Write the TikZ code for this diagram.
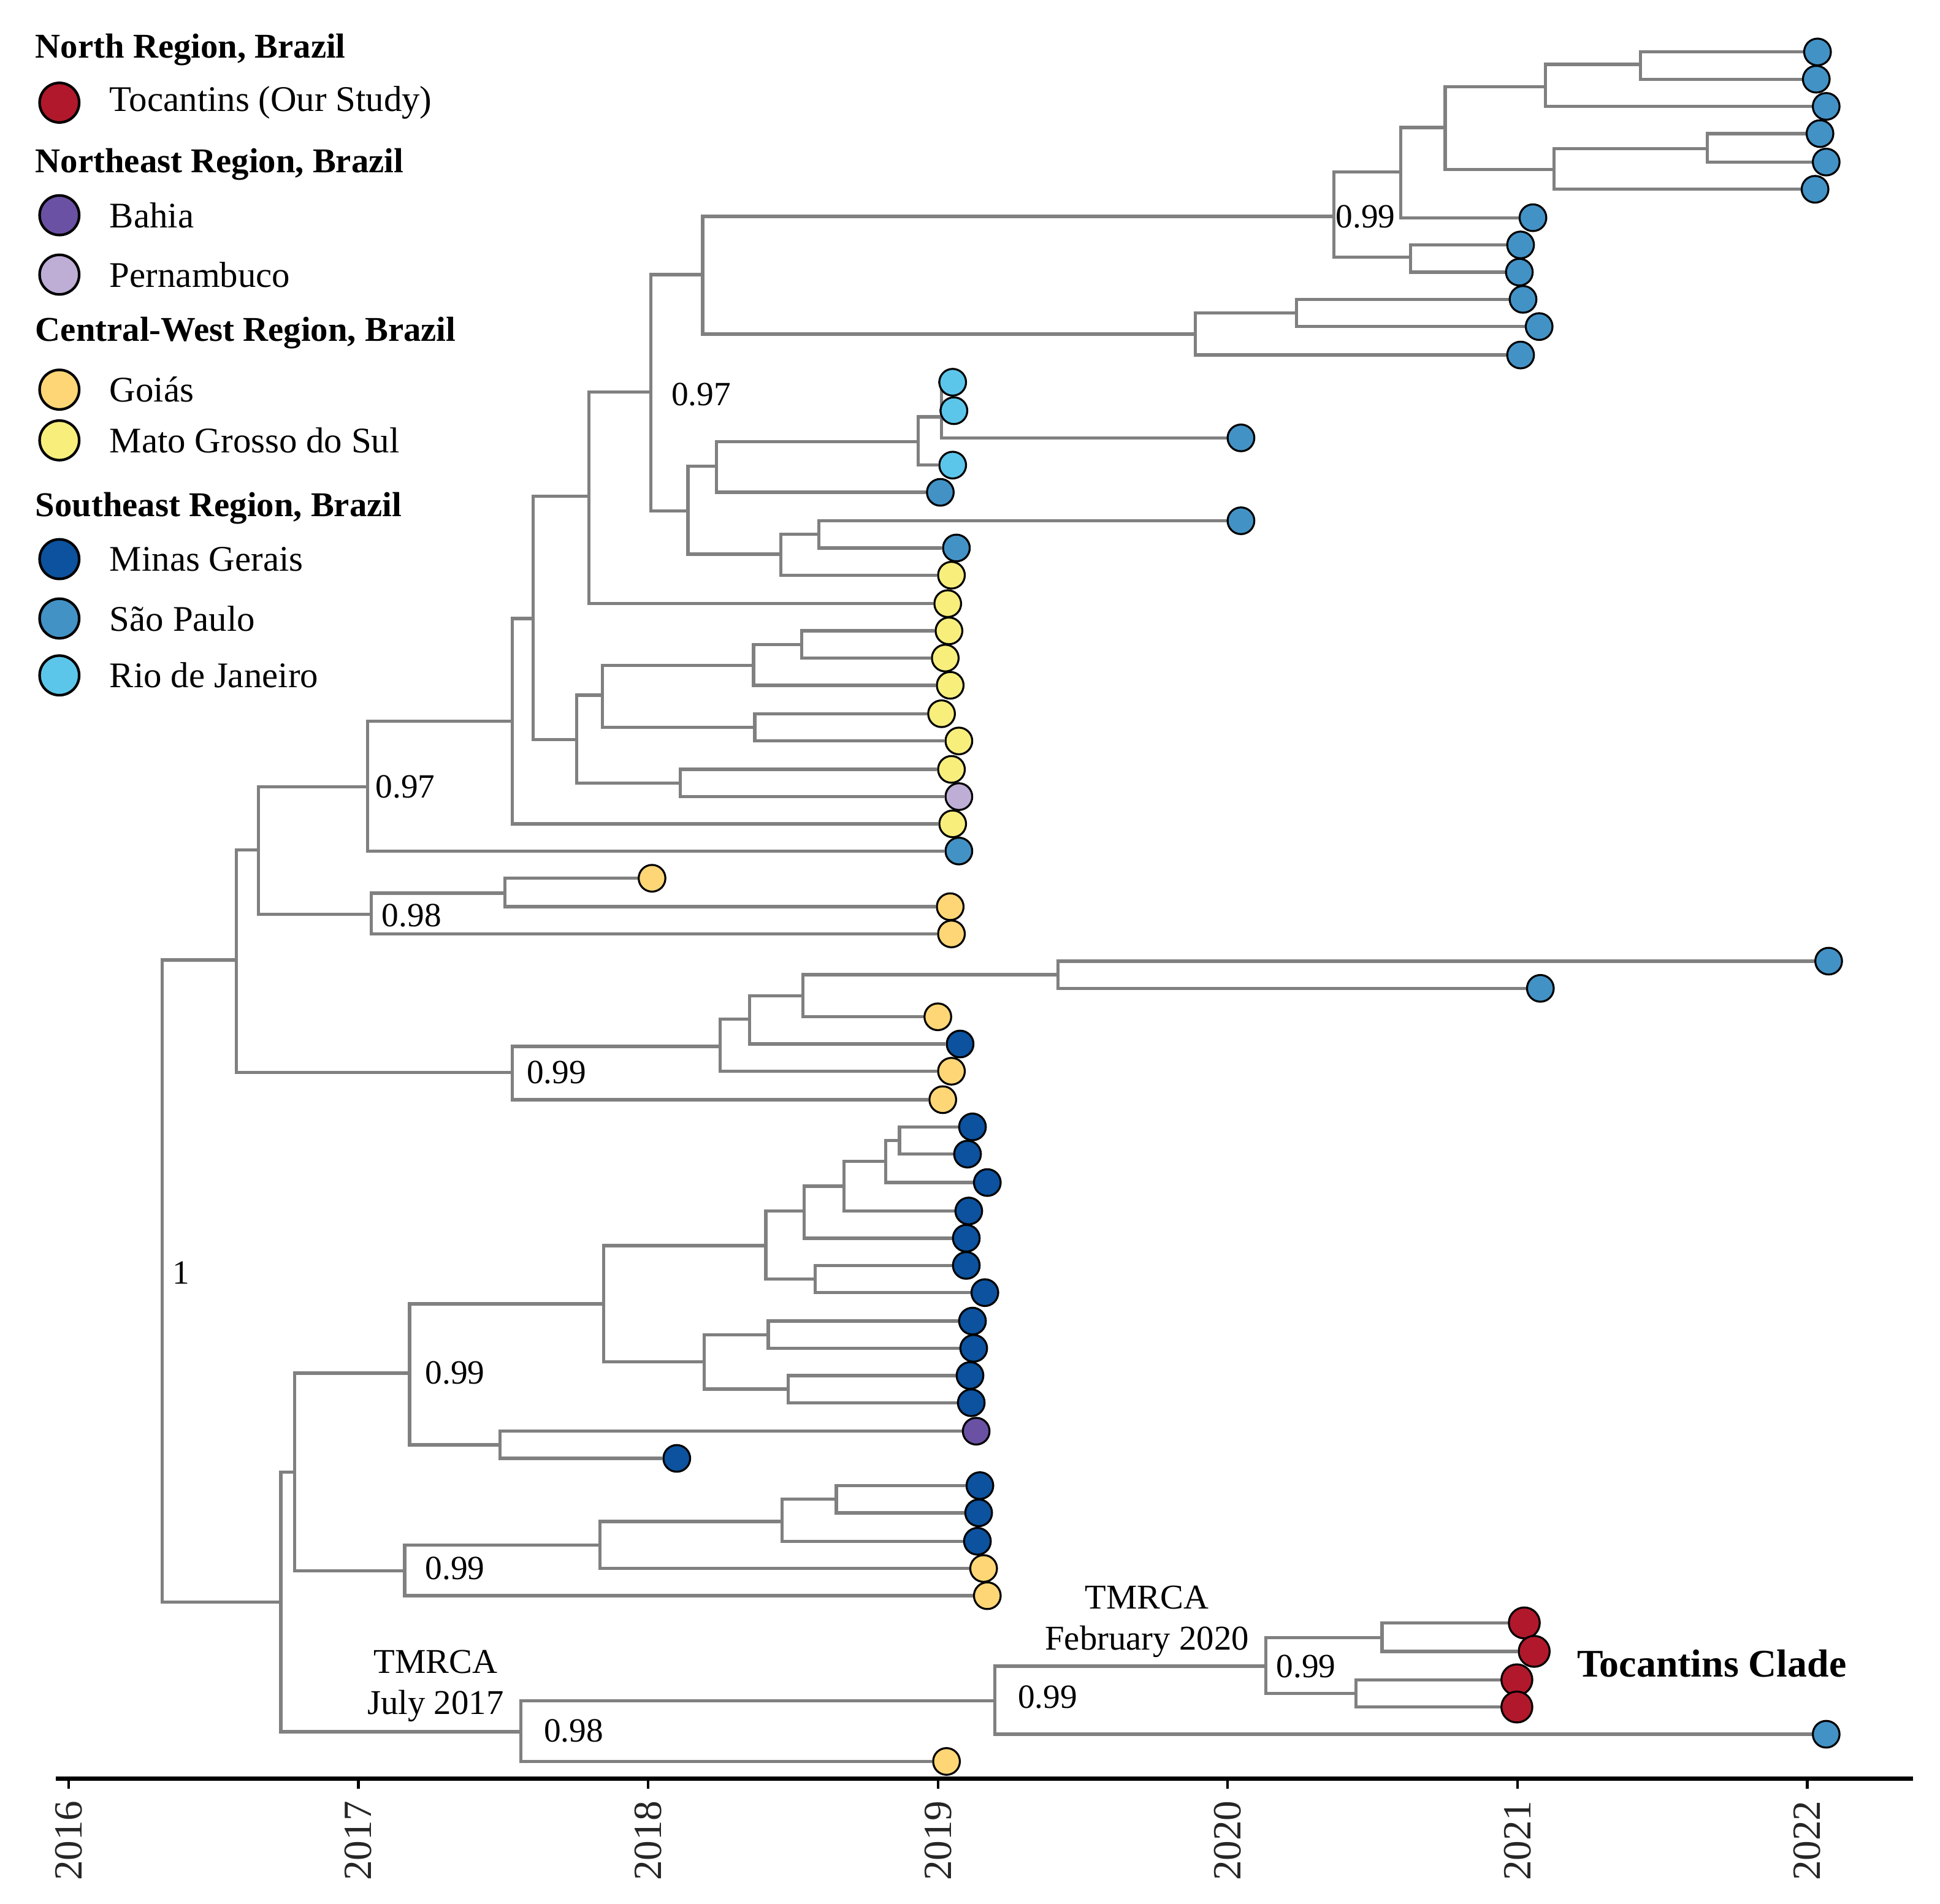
\documentclass[tikz,border=0pt]{standalone}
\usepackage{fontspec}
\setmainfont{Liberation Serif}
\usepackage{tikz}
\usetikzlibrary{positioning,calc,backgrounds}

\definecolor{branchgray}{RGB}{128,128,128}
\definecolor{tocol}{RGB}{178,24,43}
\definecolor{bacol}{RGB}{106,81,163}
\definecolor{pecol}{RGB}{190,174,214}
\definecolor{gocol}{RGB}{254,214,118}
\definecolor{mscol}{RGB}{247,238,124}
\definecolor{mgcol}{RGB}{12,82,158}
\definecolor{spcol}{RGB}{66,146,198}
\definecolor{rjcol}{RGB}{92,198,234}

\tikzset{
  branch/.style={draw=branchgray, line width=0.75pt},
  tipdot/.style={circle, draw=black, line width=0.45pt, fill=#1, minimum size=2.16mm, inner sep=0pt},
  legdot/.style={circle, draw=black, line width=0.6pt, fill=#1, minimum size=3.2mm, inner sep=0pt},
  heading/.style={anchor=west, inner sep=0pt, font=\bfseries\fontsize{8}{9.6}\selectfont},
  entry/.style={anchor=west, inner sep=0pt, font=\fontsize{8.3}{10}\selectfont},
  support/.style={anchor=west, inner sep=0pt, font=\fontsize{7.8}{9}\selectfont},
  tmrca/.style={align=center, inner sep=0pt, font=\fontsize{8}{9.4}\selectfont},
  yearlab/.style={rotate=90, anchor=east, inner sep=0pt, text=black!85, font=\fontsize{9.2}{11}\selectfont}
}

\begin{document}
\begin{tikzpicture}[x=0.1mm, y=-0.1mm]
    \useasboundingbox (0,0) rectangle (1568,1539);

    % Legend
    \node[heading] (hnorth) at (28,40) {North Region, Brazil};
    \node[legdot=tocol] (ldto) at (48,83) {};
    \node[entry] (lto) at (88,83) {Tocantins (Our Study)};
    \node[heading] (hnortheast) at (28,133) {Northeast Region, Brazil};
    \node[legdot=bacol] (ldba) at (48,174) {};
    \node[entry] (lba) at (88,174) {Bahia};
    \node[legdot=pecol] (ldpe) at (48,222) {};
    \node[entry] (lpe) at (88,222) {Pernambuco};
    \node[heading] (hcentral) at (28,269) {Central-West Region, Brazil};
    \node[legdot=gocol] (ldgo) at (48,315) {};
    \node[entry] (lgo) at (88,315) {Goiás};
    \node[legdot=mscol] (ldms) at (48,356) {};
    \node[entry] (lms) at (88,356) {Mato Grosso do Sul};
    \node[heading] (hsoutheast) at (28,411) {Southeast Region, Brazil};
    \node[legdot=mgcol] (ldmg) at (48,452) {};
    \node[entry] (lmg) at (88,452) {Minas Gerais};
    \node[legdot=spcol] (ldsp) at (48,500) {};
    \node[entry] (lsp) at (88,500) {São Paulo};
    \node[legdot=rjcol] (ldrj) at (48,546) {};
    \node[entry] (lrj) at (88,546) {Rio de Janeiro};

    % Internal nodes
    \coordinate (nroot) at (131,1035);
    \coordinate (nu1) at (191,776);
    \coordinate (nu2) at (209,687);
    \coordinate (nu3) at (297,636);
    \coordinate (nu4) at (414,583);
    \coordinate (nu5) at (431,500);
    \coordinate (nu6) at (476,401);
    \coordinate (nu7) at (526,317);
    \coordinate (nu8) at (568,222);
    \coordinate (na) at (1078,175);
    \coordinate (nb) at (1132,139);
    \coordinate (nc) at (1168,103);
    \coordinate (nd) at (1249,70);
    \coordinate (ne) at (1326,52);
    \coordinate (nf) at (1256,137);
    \coordinate (ng) at (1380,120);
    \coordinate (nh) at (1140,208);
    \coordinate (ni) at (966,270);
    \coordinate (nj) at (1048,253);
    \coordinate (nk) at (556,413);
    \coordinate (nl) at (579,377);
    \coordinate (nm) at (742,357);
    \coordinate (nn) at (761,337);
    \coordinate (nn2) at (761,320);
    \coordinate (no) at (631,448);
    \coordinate (np) at (662,432);
    \coordinate (nq) at (466,598);
    \coordinate (nr) at (487,562);
    \coordinate (ns) at (609,538);
    \coordinate (nt) at (648,521);
    \coordinate (nu) at (610,588);
    \coordinate (nv) at (550,633);
    \coordinate (nw) at (300,739);
    \coordinate (nx) at (408,722);
    \coordinate (ny) at (414,867);
    \coordinate (nz) at (582,846);
    \coordinate (naa) at (606,824);
    \coordinate (nab) at (649,805);
    \coordinate (nac) at (855,788);
    \coordinate (nad) at (227,1295);
    \coordinate (nae) at (238,1190);
    \coordinate (naf) at (331,1110);
    \coordinate (nag) at (488,1054);
    \coordinate (nah) at (619,1007);
    \coordinate (nai) at (650,979);
    \coordinate (naj) at (682,959);
    \coordinate (nak) at (716,939);
    \coordinate (nal) at (727,922);
    \coordinate (nam) at (659,1034);
    \coordinate (nan) at (569,1101);
    \coordinate (nao) at (621,1079);
    \coordinate (nap) at (637,1123);
    \coordinate (naq) at (404,1168);
    \coordinate (nar) at (327,1270);
    \coordinate (nas) at (485,1249);
    \coordinate (nat) at (632,1230);
    \coordinate (nau) at (676,1212);
    \coordinate (nav) at (421,1400);
    \coordinate (naw) at (804,1375);
    \coordinate (nax) at (1023,1347);
    \coordinate (nay) at (1117,1324);
    \coordinate (naz) at (1096,1369);

    % Tips
    \foreach \n/\x/\y/\c in {1/1469/42/spcol, 2/1468/64/spcol, 3/1476/86/spcol, 4/1471/108/spcol,
        5/1476/131/spcol, 6/1467/153/spcol, 7/1239/176/spcol, 8/1229/198/spcol, 9/1228/220/spcol,
        10/1231/242/spcol, 11/1244/264/spcol, 12/1229/287/spcol, 13/770/309/rjcol, 14/771/332/rjcol,
        15/1003/354/spcol, 16/770/376/rjcol, 17/760/398/spcol, 18/1003/421/spcol, 19/773/443/spcol,
        20/769/465/mscol, 21/766/488/mscol, 22/767/510/mscol, 23/764/532/mscol, 24/768/554/mscol,
        25/761/577/mscol, 26/775/599/mscol, 27/769/622/mscol, 28/775/644/pecol, 29/770/666/mscol,
        30/775/688/spcol, 31/527/710/gocol, 32/768/733/gocol, 33/769/755/gocol, 34/1478/777/spcol,
        35/1245/799/spcol, 36/758/822/gocol, 37/776/844/mgcol, 38/769/866/gocol, 39/762/889/gocol,
        40/786/911/mgcol, 41/782/933/mgcol, 42/798/956/mgcol, 43/783/979/mgcol, 44/781/1001/mgcol,
        45/781/1023/mgcol, 46/796/1045/mgcol, 47/786/1068/mgcol, 48/787/1090/mgcol, 49/784/1112/mgcol,
        50/785/1134/mgcol, 51/789/1157/bacol, 52/547/1179/mgcol, 53/792/1201/mgcol, 54/791/1223/mgcol,
        55/790/1246/mgcol, 56/795/1268/gocol, 57/798/1290/gocol, 62/1476/1402/spcol, 63/765/1424/gocol}
        \node[tipdot=\c] (t\n) at (\x,\y) {};
    \foreach \n/\x/\y in {58/1232/1312, 59/1240/1335, 60/1226/1358, 61/1226/1380}
        \node[tipdot=tocol, minimum size=2.5mm] (t\n) at (\x,\y) {};

    % Branches
    \begin{scope}[on background layer]
    \foreach \p/\c in {nroot/nu1, nroot/nad, nu1/nu2, nu1/ny, nu2/nu3, nu2/nw, nu3/nu4, nu3/t30,
        nu4/nu5, nu4/t29, nu5/nu6, nu5/nq, nu6/nu7, nu6/t21, nu7/nu8, nu7/nk, nu8/na, nu8/ni,
        na/nb, na/nh, nb/nc, nb/t7, nc/nd, nc/nf, nd/ne, nd/t3, ne/t1, ne/t2, nf/ng, nf/t6,
        ng/t4, ng/t5, nh/t8, nh/t9, ni/nj, ni/t12, nj/t10, nj/t11,
        nk/nl, nk/no, nl/nm, nl/t17, nm/nn, nm/t16, nn/nn2, nn/t15, nn2/t13, nn2/t14,
        no/np, no/t20, np/t18, np/t19,
        nq/nr, nq/nv, nr/ns, nr/nu, ns/nt, ns/t24, nt/t22, nt/t23, nu/t25, nu/t26, nv/t27, nv/t28,
        nw/nx, nw/t33, nx/t31, nx/t32,
        ny/nz, ny/t39, nz/naa, nz/t38, naa/nab, naa/t37, nab/nac, nab/t36, nac/t34, nac/t35,
        nad/nae, nad/nav, nae/naf, nae/nar, naf/nag, naf/naq, nag/nah, nag/nan,
        nah/nai, nah/nam, nai/naj, nai/t44, naj/nak, naj/t43, nak/nal, nak/t42, nal/t40, nal/t41,
        nam/t45, nam/t46, nan/nao, nan/nap, nao/t47, nao/t48, nap/t49, nap/t50, naq/t51, naq/t52,
        nar/nas, nar/t57, nas/nat, nas/t56, nat/nau, nat/t55, nau/t53, nau/t54,
        nav/naw, nav/t63, naw/nax, naw/t62, nax/nay, nax/naz, nay/t58, nay/t59, naz/t60, naz/t61}
        \draw[branch] (\p) |- (\c);
    \end{scope}

    % Support values
    \node[support] (sroot) at (139,1029) {1};
    \node[support] (su3) at (303,636) {0.97};
    \node[support] (su7) at (542,319) {0.97};
    \node[support] (sa) at (1079,175) {0.99};
    \node[support] (sw) at (308,740) {0.98};
    \node[support] (sy) at (425,867) {0.99};
    \node[support] (saf) at (343,1110) {0.99};
    \node[support] (sar) at (343,1268) {0.99};
    \node[support] (sav) at (439,1399) {0.98};
    \node[support] (saw) at (822,1372) {0.99};
    \node[support] (sax) at (1031,1347) {0.99};

    % Dates and clade
    \node[tmrca] (tm17) at (352,1363) {TMRCA\\July 2017};
    \node[tmrca] (tm20) at (927,1311) {TMRCA\\February 2020};
    \node[anchor=west, inner sep=0pt, font=\bfseries\fontsize{9}{11}\selectfont] (clade) at (1274,1345) {Tocantins Clade};

    % Time axis
    \coordinate (axl) at (45,1438);
    \coordinate (axr) at (1546,1438);
    \draw[line width=1pt] (axl) -- (axr);
    \foreach \yr [count=\i from 0] in {2016,...,2022} {
        \coordinate (tk\yr) at ({55.5+234.2*\i},1438);
        \draw[line width=0.6pt] (tk\yr) -- ++(0,8);
        \node[yearlab] (yl\yr) at ($(tk\yr)+(0,17)$) {\yr};
    }
\end{tikzpicture}
\end{document}
